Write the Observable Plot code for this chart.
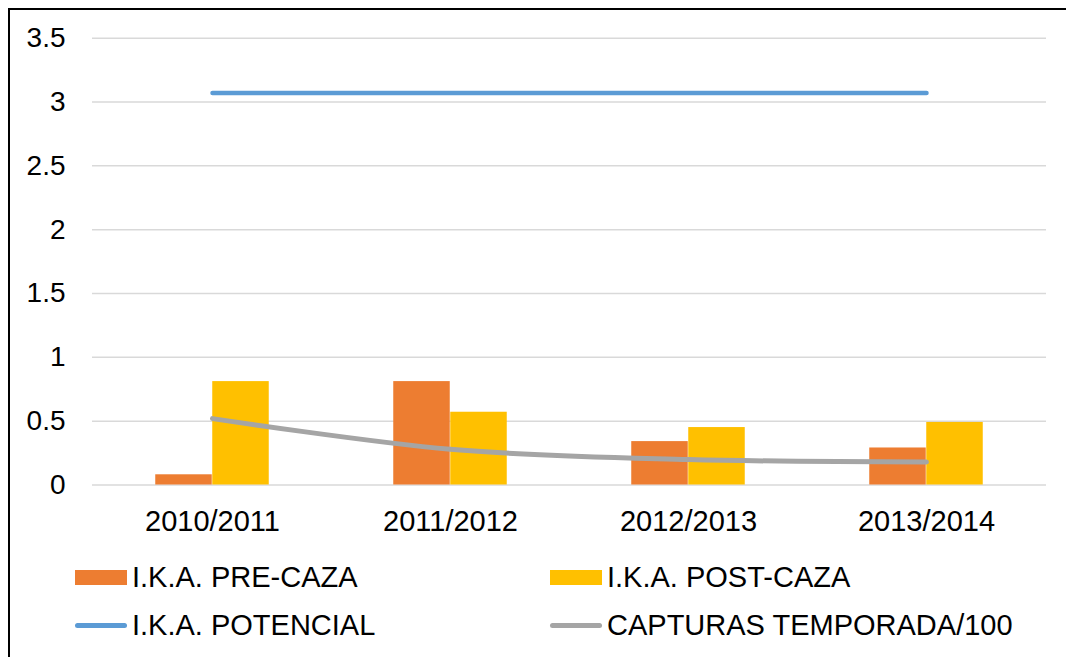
<!DOCTYPE html>
<html>
<head>
<meta charset="utf-8">
<script src="https://cdn.jsdelivr.net/npm/d3@7"></script>
<script src="https://cdn.jsdelivr.net/npm/@observablehq/plot@0.6"></script>
<style>
  html, body { margin: 0; padding: 0; background: #fff; }
  #wrap { position: relative; width: 1066px; height: 657px; overflow: hidden; font-family: "Liberation Sans", Arial, sans-serif; }
  #frame { position: absolute; left: 8px; top: 8px; width: 1100px; height: 700px; border-top: 2px solid #000; border-left: 2px solid #000; box-sizing: border-box; }
  #chart { position: absolute; left: 0; top: 0; }
  .leg { position: absolute; display: flex; align-items: center; font-size: 29px; color: #000; white-space: nowrap; letter-spacing: 0px; }
  .sw { width: 52px; height: 15px; margin-right: 5px; }
  .ln { width: 52px; height: 5px; border-radius: 3px; margin-right: 5px; }
</style>
</head>
<body>
<div id="wrap">
  <div id="frame"></div>
  <div id="chart"></div>
  <div id="legend"></div>
</div>
<script>
const seasons = ["2010/2011", "2011/2012", "2012/2013", "2013/2014"];
const preCaza = [0.08, 0.81, 0.34, 0.29];
const postCaza = [0.81, 0.57, 0.45, 0.49];
const potencial = [3.07, 3.07, 3.07, 3.07];
const capturas100 = [0.52, 0.28, 0.20, 0.18];
const yTicks = [0, 0.5, 1, 1.5, 2, 2.5, 3, 3.5];
const seriesNames = ["I.K.A. PRE-CAZA", "I.K.A. POST-CAZA", "I.K.A. POTENCIAL", "CAPTURAS TEMPORADA/100"];
const colors = ["#ED7D31", "#FFC000", "#5B9BD5", "#A5A5A5"];

const preData = seasons.map((s, i) => ({season: s, value: preCaza[i]}));
const postData = seasons.map((s, i) => ({season: s, value: postCaza[i]}));
const potData = seasons.map((s, i) => ({season: s, value: potencial[i]}));
const capData = seasons.map((s, i) => ({season: s, value: capturas100[i]}));

const W = 1066, H = 545;
const mL = 92, mR = 20, mT = 37.7, mB = 60.5;
const band = (W - mL - mR) / seasons.length;
const barW = 57;
const half = band / 2;

const chart = Plot.plot({
  width: W,
  height: H,
  marginLeft: mL,
  marginRight: mR,
  marginTop: mT,
  marginBottom: mB,
  style: {fontFamily: "'Liberation Sans', Arial, sans-serif", fontSize: "28px", color: "#000", background: "transparent"},
  x: {domain: seasons, padding: 0, label: null, tickSize: 0, tickPadding: 25},
  y: {domain: [0, 3.5], ticks: yTicks, label: null, tickSize: 0, tickPadding: 27, tickFormat: d => String(d)},
  marks: [
    Plot.gridY(yTicks, {stroke: "#d9d9d9", strokeOpacity: 1, strokeWidth: 1.5}),
    Plot.barY(preData, {x: "season", y: "value", fill: colors[0], insetLeft: half - barW, insetRight: half}),
    Plot.barY(postData, {x: "season", y: "value", fill: colors[1], insetLeft: half, insetRight: half - barW}),
    Plot.line(potData, {x: "season", y: "value", stroke: colors[2], strokeWidth: 4.5, strokeLinecap: "round"}),
    Plot.line(capData, {x: "season", y: "value", stroke: colors[3], strokeWidth: 5, strokeLinecap: "round", curve: "catmull-rom"})
  ]
});
chart.querySelectorAll("text").forEach(t => t.setAttribute("fill", "#000"));
chart.querySelectorAll("[aria-label='x-axis tick label'] text, g[aria-label='x-axis tick label']").forEach(g => g.setAttribute("font-size", "29"));
document.getElementById("chart").appendChild(chart);

const legend = document.getElementById("legend");
const pos = [[75, 577], [550, 577], [75, 625], [550, 625]];
seriesNames.forEach((name, i) => {
  const d = document.createElement("div");
  d.className = "leg";
  d.style.left = pos[i][0] + "px";
  d.style.top = (pos[i][1] - 18) + "px";
  d.style.height = "36px";
  const s = document.createElement("div");
  s.className = i < 2 ? "sw" : "ln";
  s.style.background = colors[i];
  d.appendChild(s);
  const t = document.createElement("span");
  t.textContent = name;
  d.appendChild(t);
  legend.appendChild(d);
});
</script>
</body>
</html>
